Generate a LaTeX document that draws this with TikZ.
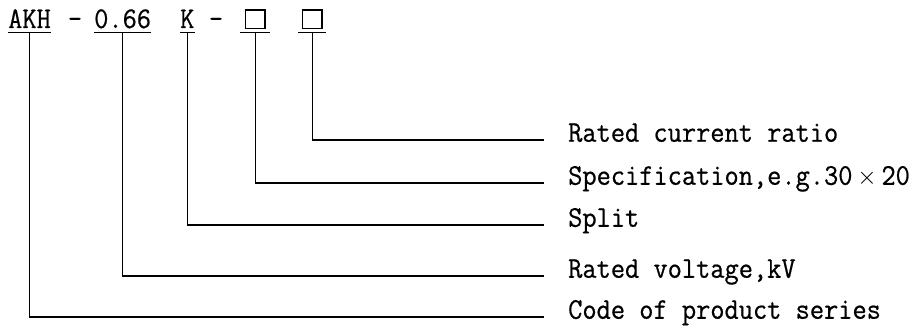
\documentclass[tikz,border=0pt]{standalone}
\usepackage{fontspec}
\newfontfamily\codefont{Latin Modern Mono}[FakeStretch=0.92, RawFeature={embolden=0.6}]
\setlength\fboxrule{1.3pt}
\setlength\fboxsep{0pt}
\newcommand{\blankbox}{\fbox{\rule{0pt}{17.4pt}\hspace{18.4pt}}}
\tikzset{
  every node/.style={font=\codefont\fontsize{30}{32}\selectfont},
  code/.style={anchor=base west, inner xsep=0pt, inner ysep=4pt, text depth=0pt},
  desc/.style={anchor=west, inner xsep=24pt, text height=0.55em, text depth=0.2em},
  lead/.style={line width=1.3pt}
}
\begin{document}
\begin{tikzpicture}[x=1pt,y=-1pt]
  \useasboundingbox (0,0) rectangle (918,334);
  \node[code] (series) at (8,28) {AKH};
  \node[anchor=base] (dash1) at (75,28) {-};
  \node[code] (voltage) at (94,28) {0.66};
  \node[code] (splitk) at (180,28) {K};
  \node[anchor=base] (dash2) at (216,28) {-};
  \node[code, inner xsep=4.5pt] (size) at (240,28) {\blankbox};
  \node[code, inner xsep=3.5pt] (ratio) at (298,28) {\blankbox};
  \node[desc] (ratio-d) at (544,140) {Rated current ratio};
  \node[desc] (size-d) at (544,183) {Specification,e.g.30\makebox[0.966em]{$\times$}20};
  \node[desc] (splitk-d) at (544,225) {Split};
  \node[desc] (voltage-d) at (544,276) {Rated voltage,kV};
  \node[desc] (series-d) at (544,317) {Code of product series};
  \foreach \n in {series,voltage,splitk,size,ratio}
    \draw[lead] (\n.south west) -- (\n.south east);
  \foreach \n in {series,voltage,splitk,size,ratio}
    \draw[lead] (\n.south) |- (\n-d.west);
\end{tikzpicture}
\end{document}
